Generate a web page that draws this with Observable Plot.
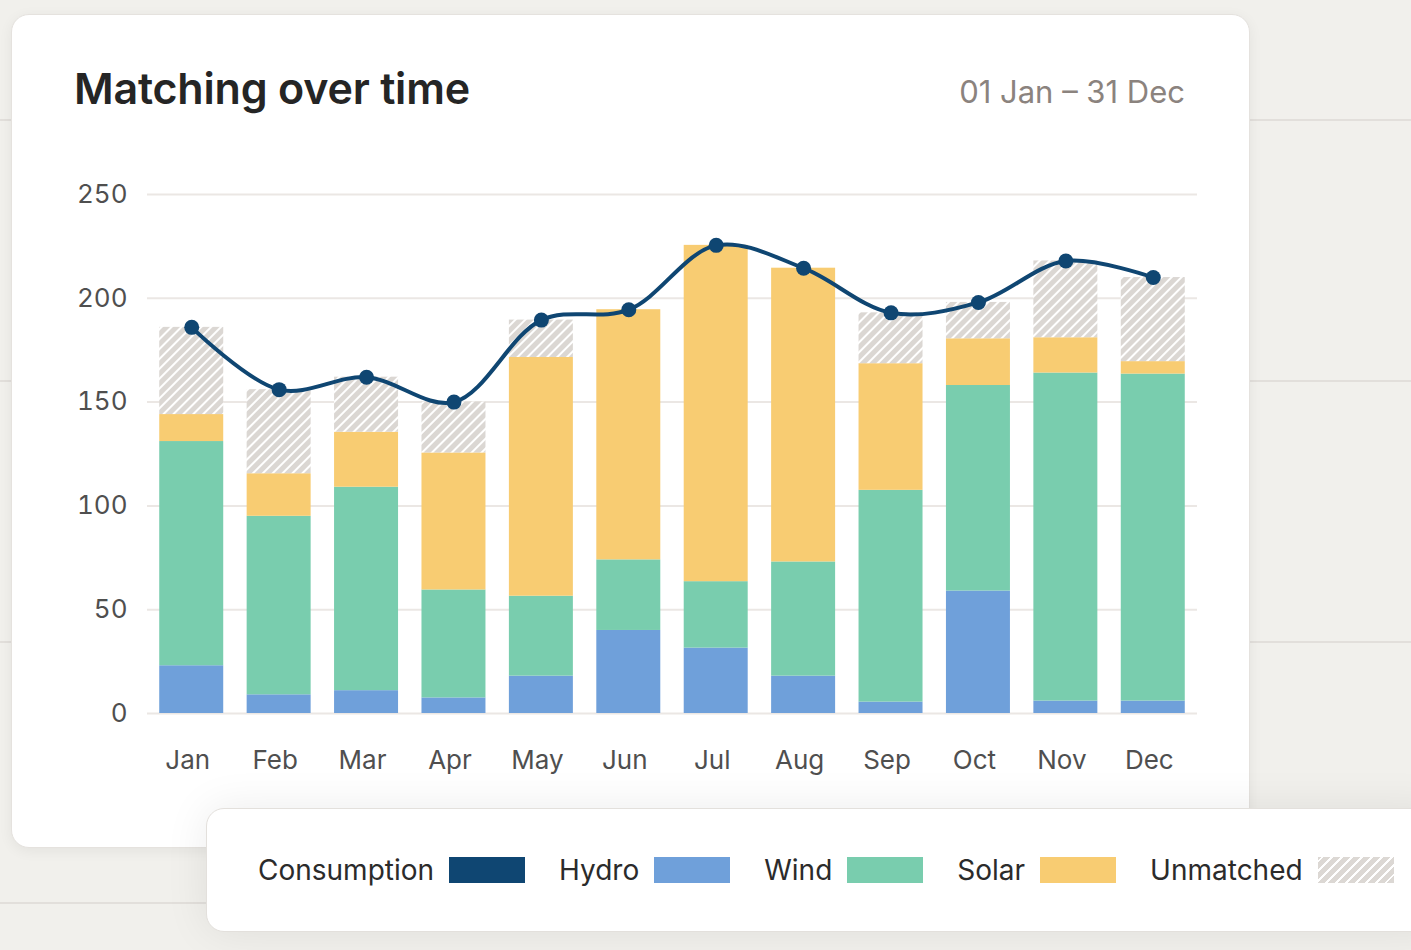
<!DOCTYPE html>
<html>
<head>
<meta charset="utf-8">
<script src="https://cdn.jsdelivr.net/npm/d3@7"></script>
<script src="https://cdn.jsdelivr.net/npm/@observablehq/plot@0.6"></script>
<style>
  html, body { margin: 0; padding: 0; }
  body {
    width: 1411px; height: 950px; overflow: hidden; position: relative;
    background: #f1f0ec; font-family: Inter, "Noto Sans", sans-serif;
  }
  .bgline { position: absolute; left: 0; width: 1411px; height: 2px; background: #e2dfdb; }
  .card {
    position: absolute; left: 11px; top: 14px; width: 1237px; height: 832px;
    background: #fff; border: 1.5px solid #e5e2de; border-radius: 18px;
    box-shadow: 0 3px 14px rgba(0,0,0,0.06);
  }
  .title {
    position: absolute; left: 74px; top: 62px; font-size: 43px; font-weight: 600;
    color: #252525; letter-spacing: -0.2px; white-space: nowrap;
  }
  .date {
    position: absolute; right: 226px; top: 73px; font-size: 31px; color: #8b837e;
    white-space: nowrap;
  }
  #chart { position: absolute; left: 40px; top: 170px; }
  .legend {
    position: absolute; left: 206px; top: 808px; width: 1240px; height: 124px;
    background: #fff; border: 1.5px solid #e3e0dc; border-radius: 18px;
    box-shadow: 0 0 44px rgba(0,0,0,0.08);
    display: flex; align-items: center; padding-left: 51px; box-sizing: border-box;
  }
  .item { display: flex; align-items: center; margin-right: 34px; }
  .item span { font-size: 28px; color: #2b2b2b; margin-right: 15px; white-space: nowrap; }
  .sw { width: 76px; height: 26px; }
  .hatch {
    background: repeating-linear-gradient(-45deg, #dcd8d4 0px, #dcd8d4 5px, #ffffff 5px, #ffffff 7px);
  }
</style>
</head>
<body>
<div class="bgline" style="top:119px"></div>
<div class="bgline" style="top:380px"></div>
<div class="bgline" style="top:641px"></div>
<div class="bgline" style="top:902px"></div>
<div class="card"></div>
<div class="title">Matching over time</div>
<div class="date">01 Jan – 31 Dec</div>
<div id="chart"></div>
<div class="legend" id="legend"></div>
<script>
const months = ["Jan","Feb","Mar","Apr","May","Jun","Jul","Aug","Sep","Oct","Nov","Dec"];
const hydro = [23, 9, 11, 7.5, 18, 40, 31.5, 18, 5.5, 59, 6, 6];
const wind = [108, 86, 98, 52, 38.5, 34, 32, 55, 102, 99, 158, 157.5];
const solar = [13, 20.5, 26.5, 66, 115, 120.5, 162, 141.5, 61, 22.5, 17, 6];
const consumption = [186, 156, 162, 150, 189.5, 194.5, 225.5, 214.5, 193, 198, 218, 210];
const seriesNames = ["Hydro", "Wind", "Solar", "Unmatched"];
const seriesFills = ["#6fa0da", "#79cdae", "#f8cc72", "url(#hatch)"];
const consumptionColor = "#0f4672";
const yTicks = [0, 50, 100, 150, 200, 250];
const legendItems = [
  {name: "Consumption", fill: "#0f4672"},
  {name: "Hydro", fill: "#6fa0da"},
  {name: "Wind", fill: "#79cdae"},
  {name: "Solar", fill: "#f8cc72"},
  {name: "Unmatched", fill: null}
];

const rows = months.flatMap((m, i) => {
  const matched = hydro[i] + wind[i] + solar[i];
  return [
    {month: m, type: "Hydro", value: hydro[i]},
    {month: m, type: "Wind", value: wind[i]},
    {month: m, type: "Solar", value: solar[i]},
    {month: m, type: "Unmatched", value: Math.max(0, consumption[i] - matched)}
  ];
});
const line = months.map((m, i) => ({month: m, value: consumption[i]}));

const chart = Plot.plot({
  width: 1180,
  height: 620,
  marginLeft: 107,
  marginRight: 23,
  marginTop: 24,
  marginBottom: 77,
  style: {fontFamily: "Inter, 'Noto Sans', sans-serif", fontSize: "26px", color: "#4f4f4f", background: "transparent", overflow: "visible"},
  x: {domain: months, paddingInner: 0.268, paddingOuter: 0.14, round: false, label: null},
  y: {domain: [0, 250], ticks: yTicks, label: null},
  color: {domain: seriesNames, range: seriesFills},
  marks: [
    Plot.gridY(yTicks, {stroke: "#ebe7e4", strokeOpacity: 1, strokeWidth: 2}),
    Plot.barY(rows, {x: "month", y: "value", fill: "type", order: seriesNames}),
    Plot.line(line, {x: "month", y: "value", curve: "catmull-rom", stroke: consumptionColor, strokeWidth: 4}),
    Plot.dot(line, {x: "month", y: "value", r: 7.5, fill: consumptionColor}),
    Plot.axisX({tickSize: 0, tickPadding: 37, dx: -4, label: null}),
    Plot.axisY(yTicks, {tickSize: 0, tickPadding: 20, label: null})
  ]
});

// hatch pattern definition
const svg = d3.select(chart);
const defs = svg.insert("defs", ":first-child");
const pat = defs.append("pattern")
  .attr("id", "hatch")
  .attr("patternUnits", "userSpaceOnUse")
  .attr("width", 7).attr("height", 7)
  .attr("patternTransform", "rotate(45)");
pat.append("rect").attr("width", 7).attr("height", 7).attr("fill", "#dbd7d3");
pat.append("rect").attr("width", 2).attr("height", 7).attr("fill", "#ffffff");

document.getElementById("chart").appendChild(chart);

const legend = d3.select("#legend");
legendItems.forEach(d => {
  const it = legend.append("div").attr("class", "item");
  it.append("span").text(d.name);
  const sw = it.append("div").attr("class", d.fill ? "sw" : "sw hatch");
  if (d.fill) sw.style("background", d.fill);
});
</script>
</body>
</html>
